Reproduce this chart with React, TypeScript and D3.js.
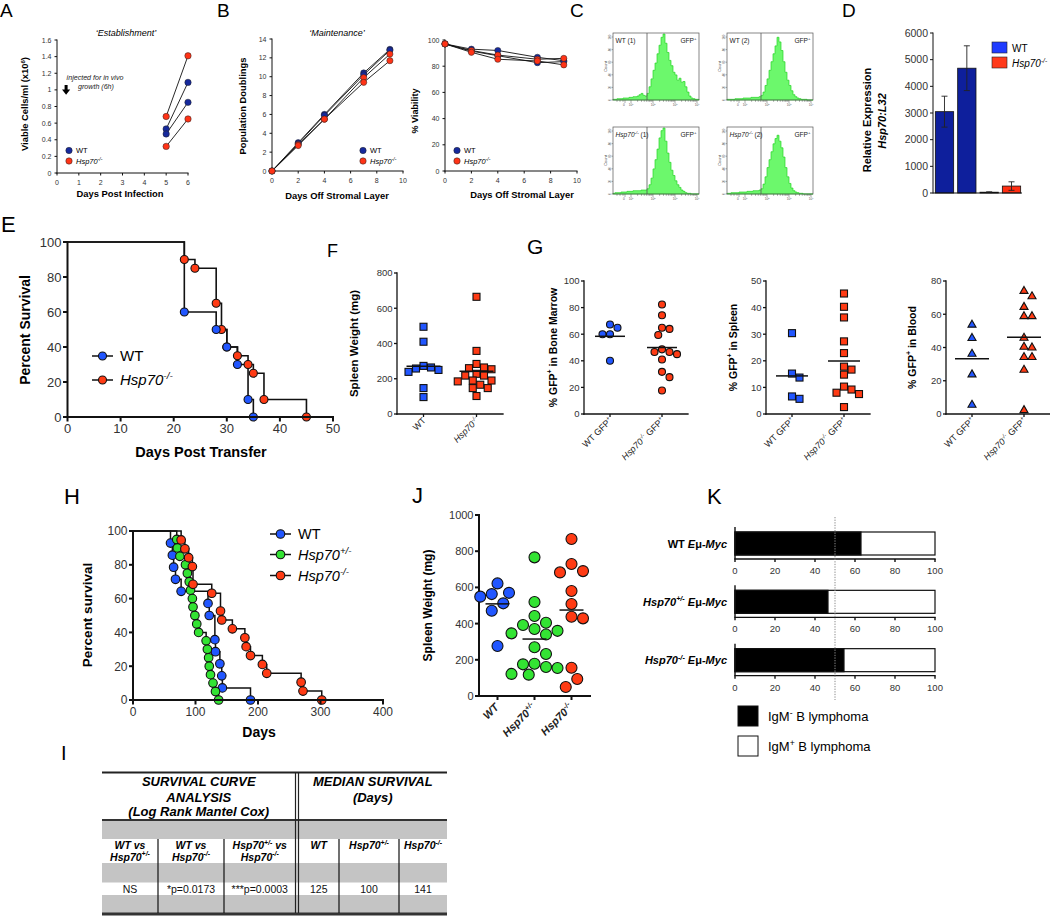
import React from "react";
import * as d3 from "d3";

const FONT = "'Liberation Sans', Arial, Helvetica, sans-serif";
const INK = "#111";
const NAVY = "#16299c";
const RED_D = "#ff3316";
const BLUE = "#2156ff";
const RED = "#ff3b14";
const GREEN = "#33e333";

type Part = { t: string; sup?: boolean; i?: boolean };
const hsp = (s: string): Part[] => [{ t: "Hsp70", i: true }, { t: s, sup: true, i: true }];

// ---- A: 'Establishment' (viable cells x10^6/ml) ----
const estDays = [5, 6];
const estWT = [[0.53, 1.09], [0.47, 0.85]];
const estKO = [[0.68, 1.41], [0.32, 0.65]];
const estYTicks = [0, 0.2, 0.4, 0.6, 0.8, 1, 1.2, 1.4, 1.6];
const estXTicks = [0, 1, 2, 3, 4, 5, 6];

// ---- B: 'Maintenance' ----
const maintDays = [0, 2, 4, 7, 9];
const doublingsWT = [[0, 3.0, 6.0, 10.4, 12.9], [0, 2.9, 5.9, 10.2, 12.8]];
const doublingsKO = [[0, 2.8, 5.5, 9.9, 12.4], [0, 2.7, 5.5, 9.4, 11.7]];
const viabilityWT = [[97, 93, 92, 86.8, 84.2], [97, 91.5, 88, 82.7, 83.5]];
const viabilityKO = [[97, 92, 88.5, 85.3, 86], [97, 90.6, 85.3, 84, 81]];
const doublingTicks = [0, 2, 4, 6, 8, 10, 12, 14];
const viabilityTicks = [0, 20, 40, 60, 80, 100];
const maintXTicks = [0, 2, 4, 6, 8, 10];

// ---- C: GFP histograms (relative count per bin) ----
const histWT1 = [
  0.01, 0.01, 0.02, 0.02, 0.02, 0.03, 0.03, 0.03, 0.04, 0.04,
  0.05, 0.05, 0.06, 0.08, 0.1, 0.07, 0.06, 0.1, 0.2, 0.32,
  0.45, 0.56, 0.7, 0.83, 0.95, 1, 0.86, 0.72, 0.6, 0.52,
  0.42, 0.38, 0.3, 0.33, 0.27, 0.28, 0.2, 0.12, 0.06, 0.03,
  0.02, 0.01, 0.01,
];
const histWT2 = [
  0.01, 0.01, 0.01, 0.01, 0.02, 0.02, 0.02, 0.02, 0.03, 0.03,
  0.03, 0.03, 0.04, 0.04, 0.04, 0.04, 0.05, 0.07, 0.12, 0.22,
  0.32, 0.45, 0.58, 0.7, 0.82, 0.95, 0.88, 0.75, 0.58, 0.42,
  0.3, 0.22, 0.14, 0.08, 0.05, 0.03, 0.02, 0.01, 0.01, 0.01,
  0, 0, 0,
];
const histKO1 = [
  0.01, 0.02, 0.02, 0.02, 0.03, 0.03, 0.03, 0.04, 0.04, 0.04,
  0.05, 0.05, 0.05, 0.05, 0.06, 0.06, 0.06, 0.08, 0.14, 0.24,
  0.38, 0.52, 0.68, 0.85, 0.96, 1, 0.8, 0.62, 0.48, 0.36,
  0.28, 0.2, 0.14, 0.1, 0.06, 0.04, 0.02, 0.01, 0.01, 0,
  0, 0, 0,
];
const histKO2 = [
  0.01, 0.01, 0.02, 0.02, 0.02, 0.02, 0.03, 0.03, 0.03, 0.03,
  0.04, 0.04, 0.04, 0.05, 0.05, 0.05, 0.06, 0.08, 0.15, 0.26,
  0.4, 0.52, 0.64, 0.76, 0.84, 0.89, 0.8, 0.7, 0.56, 0.4,
  0.26, 0.16, 0.09, 0.05, 0.03, 0.02, 0.01, 0.01, 0, 0,
  0, 0, 0,
];
const histSeries = [histWT1, histWT2, histKO1, histKO2];
const histNames: Part[][] = [
  [{ t: "WT (1)" }],
  [{ t: "WT (2)" }],
  [...hsp("-/-"), { t: " (1)" }],
  [...hsp("-/-"), { t: " (2)" }],
];

// ---- D: relative expression Hsp70:L32 ----
const exprBars = ["WT1", "WT2", "KO1", "KO2"];
const exprGroup = ["WT", "WT", "KO", "KO"];
const exprValues = [3050, 4680, 30, 260];
const exprErrors = [580, 840, 15, 160];
const exprTicks = [0, 1000, 2000, 3000, 4000, 5000, 6000];

// ---- E: survival after transfer (day of death) ----
const survE_WT = [22, 22, 22, 22, 28, 30, 32, 34, 34, 35];
const survE_KO = [22, 22, 24, 28, 28, 28, 28, 29, 29, 29, 30, 30, 32, 34, 35, 37, 37, 37, 45, 45];
const survEXTicks = [0, 10, 20, 30, 40, 50];
const survYTicks = [0, 20, 40, 60, 80, 100];

// ---- F: spleen weight (mg) ----
const spleenF_WT = [495, 410, 273, 264, 258, 250, 239, 147, 96];
const spleenF_KO = [665, 358, 284, 264, 260, 254, 228, 218, 218, 190, 190, 185, 166, 147, 147, 102];
const spleenFTicks = [0, 200, 400, 600, 800];

// ---- G: % GFP+ ----
const marrowWT = [67.3, 64.8, 60, 60, 40];
const marrowKO = [82.3, 74.3, 64.8, 64, 59.4, 48.6, 46.6, 46.6, 45, 41, 31.7, 27.7, 17.7];
const spleenWT = [30.4, 15.2, 13.7, 6.6, 5.7];
const spleenKO = [45.3, 40.3, 36.3, 27.3, 22.9, 17.8, 16.7, 14.8, 10.3, 9.2, 8.0, 7.5, 2.6];
const bloodWT = [54, 46, 36.5, 24.1, 5.8];
const bloodKO = [74.3, 71.1, 64.7, 59.1, 59.1, 46.1, 40.7, 40.3, 34.5, 34.5, 26.9, 2.6];
const marrowTicks = [0, 20, 40, 60, 80, 100];
const spleenTicks = [0, 10, 20, 30, 40, 50];
const bloodTicks = [0, 20, 40, 60, 80];

// ---- H: Eμ-Myc survival (day of death) ----
const survH_WT = [60, 63, 65, 68, 77, 120, 122, 131, 131, 132, 139, 142, 143, 188];
const survH_Het = [70, 71, 75, 84, 87, 90, 92, 95, 96, 99, 102, 105, 117, 119, 121, 122, 124, 128, 132, 137];
const survH_KO = [77, 83, 89, 95, 96, 96, 126, 140, 140, 142, 159, 179, 181, 188, 207, 214, 269, 272, 302];
const survHXTicks = [0, 100, 200, 300, 400];

// ---- J: spleen weight (mg) ----
const spleenJ_WT = [622, 570, 563, 549, 512, 471, 276];
const spleenJ_Het = [766, 519, 442, 405, 392, 370, 360, 346, 340, 269, 232, 178, 175, 160, 155, 122, 118];
const spleenJ_KO = [867, 729, 690, 683, 580, 508, 438, 429, 156, 94, 50];
const spleenJTicks = [0, 200, 400, 600, 800, 1000];

// ---- K: IgM- fraction (%) ----
const emu: Part[] = [{ t: " E", i: true }, { t: "μ" }, { t: "-Myc", i: true }];
const kLabels: Part[][] = [[{ t: "WT" }, ...emu], [...hsp("+/-"), ...emu], [...hsp("-/-"), ...emu]];
const kIgMneg = [63, 46.5, 54.5];
const kTicks = [0, 20, 40, 60, 80, 100];

// ---- I: table ----
const cmpHeads: Part[][][] = [
  [[{ t: "WT vs" }], hsp("+/-")],
  [[{ t: "WT vs" }], hsp("-/-")],
  [[...hsp("+/-"), { t: " vs" }], hsp("-/-")],
];
const cmpValues = ["NS", "*p=0.0173", "***p=0.0003"];
const medHeads: Part[][] = [[{ t: "WT" }], hsp("+/-"), hsp("-/-")];
const medValues = ["125", "100", "141"];

function Rich({ parts, fs }: { parts: Part[]; fs: number }) {
  let shift = 0;
  return (
    <>
      {parts.map((p, k) => {
        const target = p.sup ? -0.4 * fs : 0;
        const dy = target - shift;
        shift = target;
        return (
          <tspan key={k} dy={dy} fontSize={p.sup ? fs * 0.66 : fs} fontStyle={p.i ? "italic" : undefined}>
            {p.t}
          </tspan>
        );
      })}
    </>
  );
}

function LeftAxis({ scale, x, ticks, fs, tl = 3, gap = 2, sw = 1, color = "#333" }: any) {
  const [a, b] = scale.range();
  return (
    <g>
      <line x1={x} x2={x} y1={a} y2={b} stroke={INK} strokeWidth={sw} strokeLinecap="square" />
      {ticks.map((t: number) => (
        <line key={"t" + t} x1={x - tl} x2={x} y1={scale(t)} y2={scale(t)} stroke={INK} strokeWidth={sw} />
      ))}
      {ticks.map((t: number) => (
        <text key={"l" + t} x={x - tl - gap} y={scale(t)} dy="0.36em" textAnchor="end" fontSize={fs} fill={color}>
          {t}
        </text>
      ))}
    </g>
  );
}

function BottomAxis({ scale, y, ticks, fs, tl = 3, off = 12, sw = 1, color = "#333" }: any) {
  const [a, b] = scale.range();
  return (
    <g>
      <line x1={a} x2={b} y1={y} y2={y} stroke={INK} strokeWidth={sw} strokeLinecap="square" />
      {ticks.map((t: number) => (
        <line key={"t" + t} x1={scale(t)} x2={scale(t)} y1={y} y2={y + tl} stroke={INK} strokeWidth={sw} />
      ))}
      {ticks.map((t: number) => (
        <text key={"l" + t} x={scale(t)} y={y + off} textAnchor="middle" fontSize={fs} fill={color}>
          {t}
        </text>
      ))}
    </g>
  );
}

function VLabel({ x, y, fs, parts, italic }: { x: number; y: number; fs: number; parts: Part[]; italic?: boolean }) {
  return (
    <text
      transform={`translate(${x + fs * 0.35},${y}) rotate(-90)`}
      fontSize={fs}
      fontWeight="bold"
      fontStyle={italic ? "italic" : undefined}
      textAnchor="middle"
    >
      <Rich parts={parts} fs={fs} />
    </text>
  );
}

function DotLegend({ x, y, dy, r, fs }: any) {
  return (
    <g fontSize={fs}>
      <circle cx={x} cy={y} r={r} fill={NAVY} stroke="#222" strokeWidth={0.5} />
      <circle cx={x} cy={y + dy} r={r} fill={RED_D} stroke="#222" strokeWidth={0.5} />
      <text x={x + 7} y={y + fs * 0.36}>WT</text>
      <text x={x + 7} y={y + dy + fs * 0.36} fontStyle="italic">
        <Rich parts={hsp("-/-")} fs={fs} />
      </text>
    </g>
  );
}

function PanelA() {
  const x = d3.scaleLinear().domain([0, 6]).range([57, 188]);
  const y = d3.scaleLinear().domain([0, 1.6]).range([173, 40]);
  const line = d3.line<number>().x((_, i) => x(estDays[i])).y((d) => y(d));
  const series = [...estWT.map((v) => ({ v, c: NAVY })), ...estKO.map((v) => ({ v, c: RED_D }))];
  return (
    <g>
      <text x={0} y={17} fontSize={19}>A</text>
      <text x={126} y={36} fontSize={9} fontStyle="italic" textAnchor="middle">‘Establishment’</text>
      <LeftAxis scale={y} x={57} ticks={estYTicks} fs={7} tl={2.5} gap={3} />
      <BottomAxis scale={x} y={173} ticks={estXTicks} fs={7} tl={2.5} off={11.5} />
      <VLabel x={25} y={104} fs={9.4} parts={[{ t: "Viable Cells/ml (x10" }, { t: "6", sup: true }, { t: ")" }]} />
      <text x={120} y={197} fontSize={9.4} fontWeight="bold" textAnchor="middle">Days Post Infection</text>
      <g fill="#222">
        <text x={95} y={80} fontSize={7.1} fontStyle="italic" textAnchor="middle">injected for in vivo</text>
        <text x={96} y={89} fontSize={7.1} fontStyle="italic" textAnchor="middle">growth (6h)</text>
      </g>
      <path d="M64.6,85 H67.6 V89.6 H70.2 L66.1,94.8 L62,89.6 H64.6 Z" fill="#000" />
      {series.map((s, k) => (
        <path key={k} d={line(s.v) || ""} fill="none" stroke={INK} strokeWidth={0.9} />
      ))}
      {series.map((s, k) =>
        s.v.map((v, i) => (
          <circle key={`${k}-${i}`} cx={x(estDays[i])} cy={y(v)} r={3.2} fill={s.c} stroke="#222" strokeWidth={0.5} />
        ))
      )}
      <DotLegend x={69} y={150.5} dy={10.5} r={3.2} fs={7.5} />
    </g>
  );
}

function LinePlot({ x0, x1, y0, y1, max, yTicks, wt, ko }: any) {
  const x = d3.scaleLinear().domain([0, 10]).range([x0, x1]);
  const y = d3.scaleLinear().domain([0, max]).range([y0, y1]);
  const line = d3.line<number>().x((_, i) => x(maintDays[i])).y((d) => y(d));
  const series = [...wt.map((v: number[]) => ({ v, c: NAVY })), ...ko.map((v: number[]) => ({ v, c: RED_D }))];
  return (
    <g>
      <LeftAxis scale={y} x={x0} ticks={yTicks} fs={7} tl={2.5} gap={3} />
      <BottomAxis scale={x} y={y0} ticks={maintXTicks} fs={7} tl={2.5} off={11.5} />
      {series.map((s, k) => (
        <path key={k} d={line(s.v) || ""} fill="none" stroke={INK} strokeWidth={0.9} />
      ))}
      {series.map((s, k) =>
        s.v.map((v: number, i: number) => (
          <circle key={`${k}-${i}`} cx={x(maintDays[i])} cy={y(v)} r={3.1} fill={s.c} stroke="#222" strokeWidth={0.5} />
        ))
      )}
    </g>
  );
}

function PanelB() {
  return (
    <g>
      <text x={217} y={17} fontSize={19}>B</text>
      <text x={337} y={36} fontSize={9} fontStyle="italic" textAnchor="middle">‘Maintenance’</text>
      <LinePlot x0={272} x1={403} y0={171} y1={39} max={14} yTicks={doublingTicks} wt={doublingsWT} ko={doublingsKO} />
      <VLabel x={243} y={106} fs={9.4} parts={[{ t: "Population Doublings" }]} />
      <text x={337} y={199} fontSize={9.4} fontWeight="bold" textAnchor="middle">Days Off Stromal Layer</text>
      <DotLegend x={363} y={150.5} dy={10.5} r={3.2} fs={7.5} />

      <LinePlot x0={445} x1={577} y0={171} y1={40} max={100} yTicks={viabilityTicks} wt={viabilityWT} ko={viabilityKO} />
      <VLabel x={415} y={111} fs={9} parts={[{ t: "% Viability" }]} />
      <text x={522} y={198} fontSize={9.4} fontWeight="bold" textAnchor="middle">Days Off Stromal Layer</text>
      <DotLegend x={457} y={150.5} dy={10.5} r={3.2} fs={7.5} />
    </g>
  );
}

function PanelC() {
  const boxes = [[613, 33], [727, 33], [613, 127], [727, 127]];
  const w = 86;
  const h = 67;
  return (
    <g>
      <text x={570} y={17} fontSize={19}>C</text>
      {histSeries.map((vals, k) => {
        const [bx, by] = boxes[k];
        const x = d3.scaleLinear().domain([0, vals.length]).range([bx, bx + w]);
        const y = d3.scaleLinear().domain([0, 1]).range([by + h, by + 1]);
        const area = d3
          .area<number>()
          .x((_, i) => x(i))
          .y0(by + h)
          .y1((v) => y(v))
          .curve(d3.curveStepAfter);
        const pts = [...vals, vals[vals.length - 1]];
        const logx = d3.scaleLog().domain([10, 10000]).range([bx + 18, bx + 84]);
        const minor = logx.ticks();
        const yt = d3.scaleLinear().domain([0, 100]).range([by + h, by + 4]);
        return (
          <g key={k}>
            <path d={area(pts) || ""} fill="#6cf86c" stroke="#28d428" strokeWidth={0.7} />
            <rect x={bx} y={by} width={w} height={h} fill="none" stroke="#555" strokeWidth={0.7} />
            <line x1={bx + 34} x2={bx + 34} y1={by} y2={by + h} stroke="#555" strokeWidth={0.8} />
            <text x={bx + 2.5} y={by + 10} fontSize={6.6} fill="#222">
              <Rich parts={histNames[k]} fs={6.6} />
            </text>
            <text x={bx + w - 2.5} y={by + 10} fontSize={6.6} textAnchor="end" fill="#222">
              <Rich parts={[{ t: "GFP" }, { t: "+", sup: true }]} fs={6.6} />
            </text>
            {[0, 20, 40, 60, 80, 100].map((t) => (
              <g key={t}>
                <line x1={bx - 1.5} x2={bx} y1={yt(t)} y2={yt(t)} stroke="#555" strokeWidth={0.5} />
                <text transform={`translate(${bx - 2.5},${yt(t)}) rotate(-90)`} fontSize={3} textAnchor="middle" fill="#555">
                  {t}
                </text>
              </g>
            ))}
            <text transform={`translate(${bx - 6},${by + h / 2}) rotate(-90)`} fontSize={4} textAnchor="middle" fill="#444">
              Count
            </text>
            {minor.map((t, i) => {
              const major = Math.abs(Math.log10(t) - Math.round(Math.log10(t))) < 1e-6;
              return (
                <line key={i} x1={logx(t)} x2={logx(t)} y1={by + h} y2={by + h + (major ? 3 : 1.8)} stroke="#555" strokeWidth={0.5} />
              );
            })}
            {[bx + 4, bx + 7, bx + 10, bx + 12].map((tx, i) => (
              <line key={"n" + i} x1={tx} x2={tx} y1={by + h} y2={by + h + (i === 3 ? 3 : 1.8)} stroke="#555" strokeWidth={0.5} />
            ))}
            <text x={bx + 11} y={by + h + 6} fontSize={3.2} textAnchor="middle" fill="#555">0</text>
            {[10, 100, 1000, 10000].map((t) => (
              <text key={t} x={logx(t)} y={by + h + 6} fontSize={3.2} textAnchor="middle" fill="#555">
                <Rich parts={[{ t: "10" }, { t: String(Math.round(Math.log10(t))), sup: true }]} fs={3.2} />
              </text>
            ))}
          </g>
        );
      })}
    </g>
  );
}

function PanelD() {
  const y = d3.scaleLinear().domain([0, 6000]).range([193, 33]);
  const x = d3.scaleBand().domain(exprBars).range([934, 1022]).paddingInner(0.18).paddingOuter(0.06);
  const fill = (g: string) => (g === "WT" ? "#0e1f9c" : "#ff2e12");
  return (
    <g>
      <text x={842} y={17} fontSize={19}>D</text>
      {exprBars.map((b, i) => (
        <rect key={b} x={x(b)} y={y(exprValues[i])} width={x.bandwidth()} height={y(0) - y(exprValues[i])} fill={fill(exprGroup[i])} stroke="#111" strokeWidth={0.8} />
      ))}
      {exprBars.map((b, i) => {
        const cx = (x(b) || 0) + x.bandwidth() / 2;
        const lo = y(Math.max(0, exprValues[i] - exprErrors[i]));
        const hi = y(exprValues[i] + exprErrors[i]);
        return (
          <g key={"e" + b} stroke="#222" strokeWidth={0.9}>
            <line x1={cx} x2={cx} y1={lo} y2={hi} />
            <line x1={cx - 3} x2={cx + 3} y1={hi} y2={hi} />
            <line x1={cx - 3} x2={cx + 3} y1={lo} y2={lo} />
          </g>
        );
      })}
      <LeftAxis scale={y} x={933} ticks={exprTicks} fs={10.5} tl={3} gap={2} />
      <line x1={933} x2={1022} y1={193} y2={193} stroke={INK} strokeWidth={1} />
      <VLabel x={867} y={120} fs={11} parts={[{ t: "Relative Expression" }]} />
      <VLabel x={882} y={121} fs={11} parts={[{ t: "Hsp70:L32", i: true }]} />
      <rect x={992} y={42} width={15} height={11} fill="#1f3cff" stroke="#222" strokeWidth={0.6} />
      <rect x={992} y={57} width={15} height={11} fill="#ff3a1a" stroke="#222" strokeWidth={0.6} />
      <text x={1012} y={51.5} fontSize={10}>WT</text>
      <text x={1012} y={66.5} fontSize={10} fontStyle="italic">
        <Rich parts={hsp("-/-")} fs={10} />
      </text>
    </g>
  );
}

function kmPoints(times: number[]) {
  const uniq = Array.from(new Set(times)).sort((a, b) => a - b);
  let atRisk = times.length;
  let s = 100;
  const pts = [{ t: 0, s: 100 }];
  for (const t of uniq) {
    const d = times.filter((v) => v === t).length;
    s = (s * (atRisk - d)) / atRisk;
    atRisk -= d;
    pts.push({ t, s });
  }
  return pts;
}

function Survival({ x, y, groups, r, sw }: any) {
  const line = d3
    .line<{ t: number; s: number }>()
    .x((d) => x(d.t))
    .y((d) => y(d.s))
    .curve(d3.curveStepAfter);
  const all = groups.map((g: any) => ({ ...g, pts: kmPoints(g.times) }));
  return (
    <g>
      {all.map((g: any, k: number) => (
        <path key={k} d={line(g.pts) || ""} fill="none" stroke={INK} strokeWidth={sw} />
      ))}
      {all.map((g: any, k: number) =>
        g.pts.slice(1).map((p: any, i: number) => (
          <circle key={`${k}-${i}`} cx={x(p.t)} cy={y(p.s)} r={r} fill={g.color} stroke={INK} strokeWidth={1.1} />
        ))
      )}
    </g>
  );
}

function LineLegend({ x, items, fs, r }: any) {
  return (
    <g fontSize={fs}>
      {items.map((it: any, k: number) => (
        <g key={k}>
          <line x1={x} x2={x + 21} y1={it.y} y2={it.y} stroke={INK} strokeWidth={1.5} />
          <circle cx={x + 10.5} cy={it.y} r={r} fill={it.color} stroke={INK} strokeWidth={1.1} />
          <text x={x + 28} y={it.y + fs * 0.36} fontStyle={it.italic ? "italic" : undefined}>
            <Rich parts={it.label} fs={fs} />
          </text>
        </g>
      ))}
    </g>
  );
}

function PanelE() {
  const x = d3.scaleLinear().domain([0, 50]).range([67.5, 333]);
  const y = d3.scaleLinear().domain([0, 100]).range([417, 242]);
  return (
    <g>
      <text x={1} y={232} fontSize={22}>E</text>
      <Survival
        x={x}
        y={y}
        r={4}
        sw={1.6}
        groups={[
          { times: survE_KO, color: RED },
          { times: survE_WT, color: BLUE },
        ]}
      />
      <LeftAxis scale={y} x={67.5} ticks={survYTicks} fs={13} tl={4.5} gap={1.5} sw={2} />
      <BottomAxis scale={x} y={417} ticks={survEXTicks} fs={13} tl={4.5} off={16} sw={2} />
      <VLabel x={25} y={330} fs={14} parts={[{ t: "Percent Survival" }]} />
      <text x={201} y={457} fontSize={14.5} fontWeight="bold" textAnchor="middle">Days Post Transfer</text>
      <LineLegend
        x={92}
        fs={15}
        r={4}
        items={[
          { y: 356, color: BLUE, label: [{ t: "WT" }] },
          { y: 380, color: RED, label: hsp("-/-"), italic: true },
        ]}
      />
    </g>
  );
}

function swarm(values: number[], y: (v: number) => number, cx: number, d: number) {
  const placed: { x: number; y: number }[] = [];
  const order = values.map((_, i) => i).sort((a, b) => values[b] - values[a]);
  for (const i of order) {
    const py = y(values[i]);
    for (let k = 0; k < 60; k++) {
      const off = k === 0 ? 0 : (k % 2 ? 1 : -1) * Math.ceil(k / 2) * d * 0.5;
      const px = cx + off;
      if (placed.every((p) => Math.hypot(p.x - px, p.y - py) >= d)) {
        placed.push({ x: px, y: py });
        break;
      }
    }
  }
  return placed;
}

function Marker({ shape, x, y, size, color }: any) {
  if (shape === "square")
    return <rect x={x - size / 2} y={y - size / 2} width={size} height={size} fill={color} stroke={INK} strokeWidth={1.1} />;
  if (shape === "triangle") {
    const tri = d3.symbol().type(d3.symbolTriangle).size(size * size * 0.5);
    return <path d={tri() || ""} transform={`translate(${x},${y + 0.6})`} fill={color} stroke={INK} strokeWidth={1.1} />;
  }
  return <circle cx={x} cy={y} r={size / 2} fill={color} stroke={INK} strokeWidth={1.1} />;
}

function DotPlot(p: any) {
  const y = d3.scaleLinear().domain([0, p.max]).range([p.yBot, p.yTop]);
  const keys = p.groups.map((_: any, i: number) => String(i));
  const x = d3.scalePoint<string>().domain(keys).range([p.x0, p.x0 + p.len]).padding(0.5);
  return (
    <g>
      <LeftAxis scale={y} x={p.x0} ticks={p.ticks} fs={p.tickFs} tl={p.tl} gap={p.gap} sw={p.sw} />
      <line x1={p.x0} x2={p.x0 + p.len} y1={p.yBot} y2={p.yBot} stroke={INK} strokeWidth={p.sw} strokeLinecap="square" />
      <VLabel x={p.yLabelX} y={(p.yTop + p.yBot) / 2} fs={p.yLabelFs} parts={p.yLabel} />
      {p.groups.map((g: any, gi: number) => {
        const cx = x(keys[gi]) || 0;
        const pts = swarm(g.values, y, cx, p.size + 0.5);
        const m = d3.mean(g.values as number[]) || 0;
        return (
          <g key={gi}>
            <line x1={cx} x2={cx} y1={p.yBot} y2={p.yBot + p.tl} stroke={INK} strokeWidth={p.sw} />
            {pts.map((pt, i) => (
              <Marker key={i} shape={p.shape} x={pt.x} y={pt.y} size={p.size} color={g.color} />
            ))}
            <line x1={cx - p.meanHalf} x2={cx + p.meanHalf} y1={y(m)} y2={y(m)} stroke={INK} strokeWidth={1.5} />
            <text
              transform={`translate(${cx + p.labDx},${p.labelY}) rotate(-45)`}
              textAnchor="end"
              fontSize={p.labFs}
              fontWeight={p.labBold ? "bold" : undefined}
              fontStyle={p.labItalic ? "italic" : undefined}
              fill="#222"
            >
              <Rich parts={g.label} fs={p.labFs} />
            </text>
          </g>
        );
      })}
    </g>
  );
}

const gfpWT: Part[] = [{ t: "WT GFP" }, { t: "+", sup: true }];
const gfpKO: Part[] = [...hsp("-/-"), { t: " GFP" }, { t: "+", sup: true }];
const gfpY = (s: string): Part[] => [{ t: "% GFP" }, { t: "+", sup: true }, { t: s }];

function PanelF() {
  return (
    <g>
      <text x={327} y={257} fontSize={18}>F</text>
      <DotPlot
        x0={397} len={106} yBot={414} yTop={273} max={800} ticks={spleenFTicks}
        tickFs={9.5} tl={3} gap={1.5} sw={1.3}
        shape="square" size={7} meanHalf={17}
        yLabel={[{ t: "Spleen Weight (mg)" }]} yLabelX={354} yLabelFs={11.5}
        labelY={421} labDx={3} labFs={9}
        groups={[
          { values: spleenF_WT, color: BLUE, label: [{ t: "WT" }] },
          { values: spleenF_KO, color: RED, label: hsp("-/-") },
        ]}
      />
    </g>
  );
}

function PanelG() {
  const common = { len: 104, yBot: 414, yTop: 281, tickFs: 9.5, tl: 3, gap: 1.5, sw: 1.3, yLabelFs: 10.5, labelY: 421, labDx: 3, labFs: 9 };
  return (
    <g>
      <text x={527} y={254} fontSize={21}>G</text>
      <DotPlot
        {...common} x0={584} max={100} ticks={marrowTicks} shape="circle" size={7} meanHalf={15}
        yLabel={gfpY(" in Bone Marrow")} yLabelX={553}
        groups={[
          { values: marrowWT, color: BLUE, label: gfpWT },
          { values: marrowKO, color: RED, label: gfpKO },
        ]}
      />
      <DotPlot
        {...common} x0={766} max={50} ticks={spleenTicks} shape="square" size={7} meanHalf={16}
        yLabel={gfpY(" in Spleen")} yLabelX={733}
        groups={[
          { values: spleenWT, color: BLUE, label: gfpWT },
          { values: spleenKO, color: RED, label: gfpKO },
        ]}
      />
      <DotPlot
        {...common} x0={946} max={80} ticks={bloodTicks} shape="triangle" size={7.5} meanHalf={17}
        yLabel={gfpY(" in Blood")} yLabelX={912}
        groups={[
          { values: bloodWT, color: BLUE, label: gfpWT },
          { values: bloodKO, color: RED, label: gfpKO },
        ]}
      />
    </g>
  );
}

function PanelH() {
  const x = d3.scaleLinear().domain([0, 400]).range([133, 383]);
  const y = d3.scaleLinear().domain([0, 100]).range([700, 531]);
  return (
    <g>
      <text x={64} y={504} fontSize={22}>H</text>
      <Survival
        x={x}
        y={y}
        r={4.3}
        sw={1.5}
        groups={[
          { times: survH_WT, color: BLUE },
          { times: survH_Het, color: GREEN },
          { times: survH_KO, color: RED },
        ]}
      />
      <LeftAxis scale={y} x={133} ticks={survYTicks} fs={12} tl={4} gap={1.5} sw={2} />
      <BottomAxis scale={x} y={700} ticks={survHXTicks} fs={12} tl={4.5} off={16} sw={2} />
      <VLabel x={87} y={615} fs={13.5} parts={[{ t: "Percent survival" }]} />
      <text x={259} y={737} fontSize={14} fontWeight="bold" textAnchor="middle">Days</text>
      <LineLegend
        x={270}
        fs={14.5}
        r={4.3}
        items={[
          { y: 534, color: BLUE, label: [{ t: "WT" }] },
          { y: 554.5, color: GREEN, label: hsp("+/-"), italic: true },
          { y: 575.5, color: RED, label: hsp("-/-"), italic: true },
        ]}
      />
    </g>
  );
}

function PanelJ() {
  return (
    <g>
      <text x={412} y={503} fontSize={22}>J</text>
      <DotPlot
        x0={479} len={111} yBot={696} yTop={515} max={1000} ticks={spleenJTicks}
        tickFs={11} tl={4} gap={1.5} sw={2}
        shape="circle" size={11} meanHalf={12}
        yLabel={[{ t: "Spleen Weight (mg)" }]} yLabelX={428} yLabelFs={12}
        labelY={708} labDx={2} labFs={11} labBold labItalic
        groups={[
          { values: spleenJ_WT, color: BLUE, label: [{ t: "WT" }] },
          { values: spleenJ_Het, color: GREEN, label: hsp("+/-") },
          { values: spleenJ_KO, color: RED, label: hsp("-/-") },
        ]}
      />
    </g>
  );
}

function PanelK() {
  const x = d3.scaleLinear().domain([0, 100]).range([735, 935]);
  const rows = d3.scaleBand().domain(kLabels.map((_, i) => String(i))).range([522, 697]);
  return (
    <g>
      <text x={707} y={504} fontSize={22}>K</text>
      {kLabels.map((lab, i) => {
        const top = (rows(String(i)) || 0) + 10;
        const axisY = top + 27;
        return (
          <g key={i}>
            <rect x={x(0)} y={top} width={x(100) - x(0)} height={23} fill="#fff" stroke={INK} strokeWidth={1.2} />
            <rect x={x(0)} y={top} width={x(kIgMneg[i]) - x(0)} height={23} fill="#000" stroke={INK} strokeWidth={1.2} />
            <line x1={735} x2={735} y1={top - 5} y2={axisY} stroke={INK} strokeWidth={1.4} />
            <BottomAxis scale={x} y={axisY} ticks={kTicks} fs={9.5} tl={3} off={15} sw={1.4} />
            <text x={727} y={top + 15.5} textAnchor="end" fontSize={11} fontWeight="bold">
              <Rich parts={lab} fs={11} />
            </text>
          </g>
        );
      })}
      <line x1={x(50)} x2={x(50)} y1={517} y2={700} stroke="#8a8a8a" strokeWidth={1} strokeDasharray="1.3,1.3" />
      <rect x={738} y={706} width={20} height={20} fill="#000" stroke={INK} />
      <rect x={738} y={736} width={20} height={20} fill="#fff" stroke={INK} />
      <text x={768} y={721} fontSize={13}>
        <Rich parts={[{ t: "IgM" }, { t: "-", sup: true }, { t: " B lymphoma" }]} fs={13} />
      </text>
      <text x={768} y={751} fontSize={13}>
        <Rich parts={[{ t: "IgM" }, { t: "+", sup: true }, { t: " B lymphoma" }]} fs={13} />
      </text>
    </g>
  );
}

function PanelI() {
  const L = 102;
  const R = 447;
  const leftCols = [102, 158, 224, 295.5];
  const rightCols = [298.5, 339, 399, 447];
  const gray = "#c4c4c4";
  const mid = (a: number, b: number) => (a + b) / 2;
  return (
    <g>
      <text x={61} y={760} fontSize={20}>I</text>
      <rect x={L} y={820.5} width={R - L} height={18.5} fill={gray} />
      <rect x={L} y={863} width={R - L} height={19.5} fill={gray} />
      <rect x={L} y={895} width={R - L} height={18.5} fill={gray} />
      <line x1={L} x2={R} y1={772.5} y2={772.5} stroke="#222" strokeWidth={1.8} />
      <line x1={L} x2={R} y1={820} y2={820} stroke="#333" strokeWidth={2} />
      <line x1={L} x2={R} y1={914} y2={914} stroke="#333" strokeWidth={3} />
      <line x1={295.5} x2={295.5} y1={772} y2={913} stroke="#222" strokeWidth={1.2} />
      <line x1={298.5} x2={298.5} y1={772} y2={913} stroke="#222" strokeWidth={1.2} />
      {[158, 224, 339, 399].map((cx) => (
        <line key={cx} x1={cx} x2={cx} y1={839} y2={913} stroke="#111" strokeWidth={1.2} />
      ))}
      <g fontSize={13} fontWeight="bold" fontStyle="italic" textAnchor="middle">
        <text x={mid(102, 295.5)} y={786}>SURVIVAL CURVE</text>
        <text x={mid(102, 295.5)} y={801.5}>ANALYSIS</text>
        <text x={mid(102, 295.5)} y={816}>(Log Rank Mantel Cox)</text>
        <text x={mid(298.5, 447)} y={786}>MEDIAN SURVIVAL</text>
        <text x={mid(298.5, 447)} y={801.5}>(Days)</text>
      </g>
      <g fontSize={10.5} fontWeight="bold" fontStyle="italic" textAnchor="middle">
        {cmpHeads.map((lines, i) =>
          lines.map((ln, j) => (
            <text key={`${i}-${j}`} x={mid(leftCols[i], leftCols[i + 1])} y={849 + j * 11.5}>
              <Rich parts={ln} fs={10.5} />
            </text>
          ))
        )}
        {medHeads.map((ln, i) => (
          <text key={"m" + i} x={mid(rightCols[i], rightCols[i + 1])} y={849}>
            <Rich parts={ln} fs={10.5} />
          </text>
        ))}
      </g>
      <g fontSize={10.5} textAnchor="middle" fill="#111">
        {cmpValues.map((v, i) => (
          <text key={v} x={mid(leftCols[i], leftCols[i + 1])} y={893}>{v}</text>
        ))}
        {medValues.map((v, i) => (
          <text key={"v" + i} x={mid(rightCols[i], rightCols[i + 1])} y={893}>{v}</text>
        ))}
      </g>
    </g>
  );
}

export default function App() {
  return (
    <svg
      width={1050}
      height={916}
      viewBox="0 0 1050 916"
      style={{ position: "absolute", left: 0, top: 0, background: "#fff" }}
      fontFamily={FONT}
      fill="#000"
    >
      <rect width={1050} height={916} fill="#fff" />
      <PanelA />
      <PanelB />
      <PanelC />
      <PanelD />
      <PanelE />
      <PanelF />
      <PanelG />
      <PanelH />
      <PanelJ />
      <PanelK />
      <PanelI />
    </svg>
  );
}
